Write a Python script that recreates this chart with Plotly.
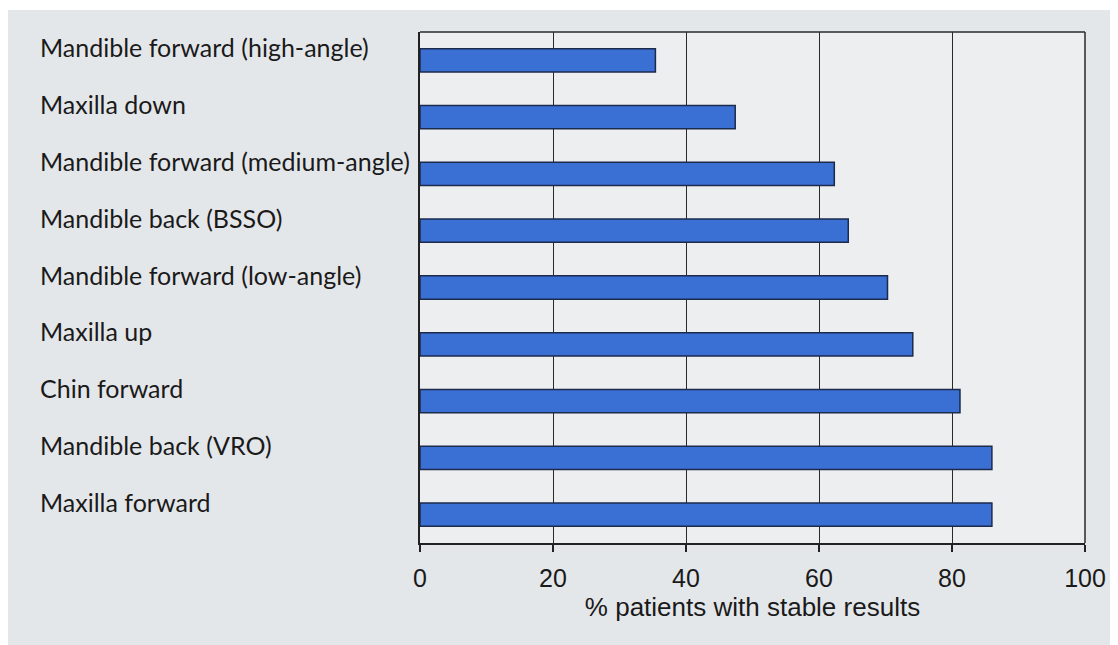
import plotly.graph_objects as go

categories = [
    "Mandible forward (high-angle)",
    "Maxilla down",
    "Mandible forward (medium-angle)",
    "Mandible back (BSSO)",
    "Mandible forward (low-angle)",
    "Maxilla up",
    "Chin forward",
    "Mandible back (VRO)",
    "Maxilla forward",
]
values = [35.4, 47.4, 62.3, 64.4, 70.3, 74.1, 81.2, 86.0, 86.0]
x_ticks = [0, 20, 40, 60, 80, 100]
x_title = "% patients with stable results"

# page has an 8px body margin; the figure is sized to compensate
W, H = 1110, 637
L, R, T, B = 412, 27, 24, 102
plot_w = W - L - R
plot_h = H - T - B

fig = go.Figure()
fig.add_trace(go.Bar(
    y=categories, x=values, orientation="h",
    width=0.41,
    marker=dict(color="#3a6fd4", line=dict(color="#1c2a4c", width=1.5)),
    hoverinfo="x+y",
))

label_font = dict(family="Lato, Carlito, Noto Sans", size=25, color="#1a1a1a")
axis_font = "Liberation Sans, Arial"

annotations = []
for c in categories:
    annotations.append(dict(
        x=(27 - L) / plot_w, xref="paper", xanchor="left",
        y=c, yref="y", yanchor="middle", yshift=13,
        text=c, showarrow=False, font=label_font,
    ))

fig.update_layout(
    width=W, height=H,
    margin=dict(l=L, r=R, t=T, b=B),
    paper_bgcolor="#e4e7ea",
    plot_bgcolor="#eceeef",
    showlegend=False,
    bargap=0.59,
    annotations=annotations,
    shapes=[
        dict(type="line", xref="paper", yref="paper", x0=0, x1=1, y0=1, y1=1,
             line=dict(color="#2a2a2a", width=1.5)),
        dict(type="line", xref="paper", yref="paper", x0=1, x1=1, y0=0, y1=1,
             line=dict(color="#2a2a2a", width=1.5)),
        dict(type="rect", xref="paper", yref="paper", layer="below",
             x0=-1, x1=2, y0=1 + (T - 2) / plot_h, y1=1 + (T + 2) / plot_h,
             fillcolor="white", line=dict(width=0)),
    ],
    xaxis=dict(
        range=[0, 100], tickvals=x_ticks, ticks="outside", ticklen=7,
        tickcolor="#222", tickwidth=1.5,
        showgrid=True, gridcolor="#2a2a2a", gridwidth=1.2,
        showline=True, linecolor="#222", linewidth=1.8,
        zeroline=False, ticklabelstandoff=5,
        tickfont=dict(family=axis_font, size=25, color="#1a1a1a"),
        title=dict(text=x_title, standoff=0,
                   font=dict(family=axis_font, size=26, color="#1a1a1a")),
    ),
    yaxis=dict(
        categoryorder="array", categoryarray=categories[::-1],
        range=[-0.5, len(categories) - 0.5],
        showticklabels=False, ticks="",
        showgrid=False, zeroline=False,
        showline=True, linecolor="#222", linewidth=1.8,
    ),
)

fig.write_html("out.html")
